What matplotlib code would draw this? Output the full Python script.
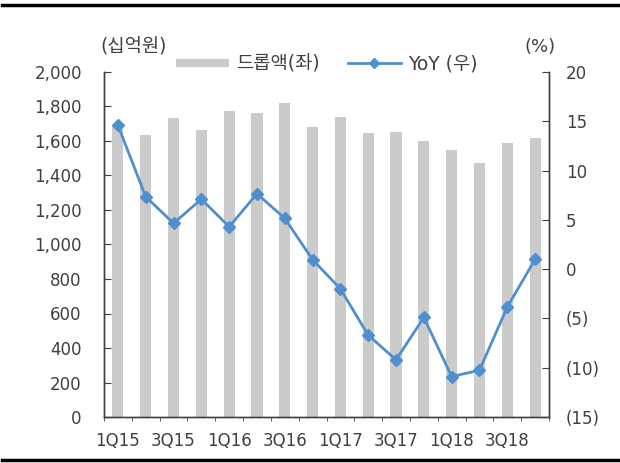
import matplotlib
matplotlib.use("Agg")
import matplotlib.pyplot as plt
from matplotlib.lines import Line2D
import numpy as np

plt.rcParams['font.family'] = ['DejaVu Sans', 'Noto Sans CJK KR']

quarters = ['1Q15', '2Q15', '3Q15', '4Q15', '1Q16', '2Q16', '3Q16', '4Q16',
            '1Q17', '2Q17', '3Q17', '4Q17', '1Q18', '2Q18', '3Q18', '4Q18']
drop_amount = [1695, 1635, 1731, 1664, 1774, 1760, 1820, 1679,
               1739, 1644, 1652, 1600, 1548, 1472, 1590, 1615]
yoy = [14.6, 7.35, 4.65, 7.1, 4.3, 7.65, 5.15, 0.96,
       -2.0, -6.7, -9.2, -4.9, -10.9, -10.25, -3.85, 1.0]

left_ticks = [0, 200, 400, 600, 800, 1000, 1200, 1400, 1600, 1800, 2000]
right_ticks = [-15, -10, -5, 0, 5, 10, 15, 20]

text_color = '#404040'
bar_color = '#cbcbcb'
line_color = '#4f8fd0'

W, H = 620, 463
fig = plt.figure(figsize=(W / 100, H / 100), dpi=100)
ax = fig.add_axes([104 / W, 1 - 417 / H, (549 - 104) / W, (417 - 72) / H])
ax2 = ax.twinx()

x = np.arange(len(quarters))
ax.bar(x, drop_amount, width=0.4, color=bar_color, zorder=1)
ax.set_xlim(-0.5, len(quarters) - 0.5)
ax.set_ylim(0, 2000)
ax.set_yticks(left_ticks)
ax.set_yticklabels([f'{v:,}' for v in left_ticks])

ax2.plot(x, yoy, color=line_color, lw=2.0, marker='D', markersize=6,
         markeredgecolor=line_color, zorder=3)
ax2.set_ylim(-15, 20)
ax2.set_yticks(right_ticks)
ax2.set_yticklabels([f'({-v})' if v < 0 else f'{v}' for v in right_ticks])

ax.set_xticks(x[::2])
ax.set_xticklabels(quarters[::2])
ax.set_xticks(np.arange(-0.5, len(quarters), 1), minor=True)
ax.tick_params(axis='x', which='major', length=0, pad=11, labelsize=12, colors=text_color)
ax.tick_params(axis='x', which='minor', length=3, direction='out', color='#404040')
ax.tick_params(axis='y', direction='in', length=5, pad=16, labelsize=12,
               labelcolor=text_color, color='#404040')
ax2.tick_params(axis='y', direction='in', length=5, pad=12, labelsize=12,
                labelcolor=text_color, color='#404040')

for a in (ax, ax2):
    a.spines['top'].set_visible(False)
    for s in ('left', 'right', 'bottom'):
        a.spines[s].set_color('#404040')
        a.spines[s].set_linewidth(1.0)

ax.set_zorder(ax2.get_zorder() - 1)
ax2.patch.set_visible(False)

fig.text(134 / W, 1 - 47 / H, '(십억원)', ha='center', va='center', fontsize=13.5, color=text_color)
fig.text(540 / W, 1 - 47 / H, '(%)', ha='center', va='center', fontsize=13, color=text_color)

handles = [Line2D([0], [0], color=bar_color, lw=6, solid_capstyle='butt'),
           Line2D([0], [0], color=line_color, lw=2.0, marker='D', markersize=5,
                  markeredgecolor=line_color)]
fig.legend(handles, ['드롭액(좌)', 'YoY (우)'], loc='center',
           bbox_to_anchor=(327 / W, 1 - 64 / H), ncol=2, frameon=False,
           fontsize=13.5, handlelength=2.8, handletextpad=0.4, columnspacing=1.5,
           labelcolor=text_color, borderpad=0)

fig.add_artist(Line2D([2 / W, 1.0], [1 - 5 / H, 1 - 5 / H], color='black', lw=2.5,
                      transform=fig.transFigure))
fig.add_artist(Line2D([2 / W, 1.0], [1 - 460 / H, 1 - 460 / H], color='black', lw=2.5,
                      transform=fig.transFigure))

fig.savefig('out.png', dpi=100)
